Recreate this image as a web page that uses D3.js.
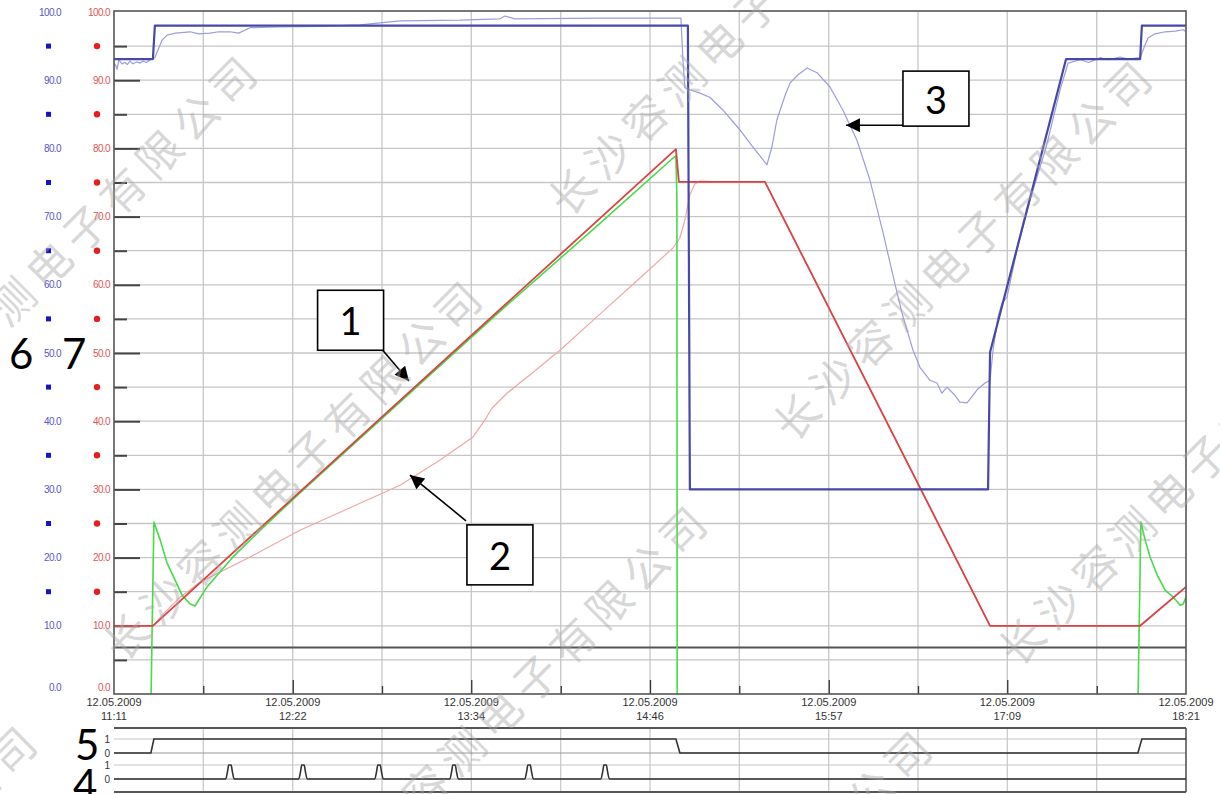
<!DOCTYPE html>
<html><head><meta charset="utf-8">
<script src="https://cdn.jsdelivr.net/npm/d3@7"></script>
<style>body{margin:0;background:#fff;} svg{display:block;}</style>
</head><body>
<svg id="c" width="1220" height="794"></svg>
<script>
// ---------------- DATA ----------------
const dateLabel = "12.05.2009";
const timeLabels = ["11:11","12:22","13:34","14:46","15:57","17:09","18:21"];
const timeTickMinutes = [0, 71.7, 143.3, 215, 286.7, 358.3, 430];
const minorTickMinutes = [35.8, 107.5, 179.2, 250.8, 322.5, 394.2];
const yMajorTicks = [0,10,20,30,40,50,60,70,80,90,100];
const yMinorTicks = [5,15,25,35,45,55,65,75,85,95];
const markerValues = [15,25,35,45,55,65,75,85,95];
const refLineValue = 6.8;

// [minute since 11:11, value]
const blueSetpoint = [[0,93.1],[15.6,93.1],[16.4,98.0],[230.2,98.0],[231.0,30.0],[350.6,30.0],[351.4,50.1],[381.9,93.1],[411.6,93.1],[412.3,98.0],[430,98.0]];
const blueActual = [[0,92.5],[0.8,92.1],[1.2,91.6],[2,93.0],[3.2,92.4],[4.4,92.6],[5.4,92.3],[6.4,92.8],[7.6,92.4],[9.2,92.7],[10.4,92.5],[11.6,92.8],[13,92.6],[14.4,93.0],[16.4,93.3],[17.6,94.4],[19.3,95.9],[21.3,96.6],[24.6,96.9],[30.5,97.1],[34,96.8],[38.5,96.9],[42,97.1],[46.5,97.1],[50,96.9],[54.6,97.7],[66.6,97.8],[82.6,97.9],[98.7,98.1],[114.7,98.7],[138.8,98.8],[154.8,99.0],[156.8,99.4],[160.8,99.0],[194.9,99.1],[227.4,99.1],[228.2,93.0],[229,88.9],[231,88.6],[235,88.1],[239,87.5],[244.3,85.6],[251.1,82.7],[256.3,80.2],[261.9,77.6],[263.9,80.2],[265.9,84.2],[269.2,87.8],[271.2,89.6],[274.4,90.8],[278,91.8],[282,91.1],[287.2,89.0],[292.4,85.6],[298,81.2],[303.2,75.4],[308.5,67.6],[314.1,58.8],[316.5,55.3],[320.5,50.4],[323.3,47.9],[327.3,46.0],[330.1,45.6],[332.1,44.1],[334.1,45.0],[337.3,43.8],[339.3,42.8],[342.2,42.7],[346.2,44.6],[349.4,45.6],[351.4,46.0],[352.6,50.4],[354.6,55.3],[356.2,57.3],[358.2,58.2],[362.2,65.1],[367.4,72.4],[373.9,80.2],[379.5,88.6],[382.7,92.5],[387.5,93.0],[391,92.6],[395.5,93.3],[399,93.0],[403.5,93.4],[407,93.1],[411.6,93.3],[413.6,95.2],[414.8,96.2],[417.6,96.8],[421.7,97.1],[425.7,97.2],[428.9,97.4],[430,97.1]];
const redSetpoint = [[0,10],[15.6,10],[225.4,79.9],[226.6,75.1],[261.1,75.1],[351.4,10],[411.6,10],[430,15.7]];
const redActual = [[0,10],[15.6,10],[20.5,12.0],[26.5,14.2],[34.5,16.4],[54.6,20.1],[74.6,24.0],[94.7,27.3],[114.7,30.6],[130.8,34.3],[144,37.7],[148.8,40.2],[151.6,41.9],[157.6,44.1],[166.9,46.8],[178.9,50.4],[194.9,55.7],[211,61.0],[224.2,65.4],[227,66.9],[229,69.5],[231,73.2],[233,74.8],[235,75.2],[243.1,75.1],[261.1,75.1],[351.4,10],[411.6,10],[430,15.7]];
const greenSeg1 = [[14.8,-2],[15.4,12],[16.0,25.2],[18.5,22.6],[21.3,19.2],[24.5,16.7],[27.3,14.5],[30.5,13.2],[32.5,12.9],[37.3,15.7],[42.5,17.9],[47.7,20.1],[58.6,24.0],[74.6,29.5],[114.7,42.8],[154.8,56.1],[194.9,69.0],[224.6,78.7],[225.4,78.9],[225.8,72.4],[225.9,0],[226.0,-2]];
const greenSeg2 = [[410.7,-2],[411.3,12],[411.9,25.2],[413.6,22.6],[415.6,20.1],[418.5,17.4],[421.7,15.2],[424.9,14.2],[427.7,13.0],[428.9,13.2],[430,14.2]];
const digital5 = [[0,0],[14.8,0],[16.0,1],[225.4,1],[227.0,0],[410.7,0],[412.3,1],[430,1]];
const digital4Pulses = [46.5, 75.8, 106.3, 136.4, 166.5, 197.0];
const digitalLevels = [0,1];

// annotations anchored in data units
const annotations = [
  {label:"1", box:[94.9,54.8], tail:[107.1,50.7], tip:[118.3,45.9]},
  {label:"2", box:[154.8,20.4], tail:[141.2,25.4], tip:[118.7,32.1]},
  {label:"3", box:[329.7,87.3], tail:[316.5,83.4], tip:[293.6,83.4]}
];
const watermarkText = "长沙容测电子有限公司";

// ---------------- LAYOUT ----------------
const svg = d3.select("#c");
const L = 114, R = 1186, T = 11, B = 694;
const x = d3.scaleLinear().domain([0,430]).range([L,R]);
const y = d3.scaleLinear().domain([0,100]).range([B,12]);
const gridCol = "#c6c6c6", frameCol = "#555";

svg.append("defs").append("clipPath").attr("id","plotclip")
  .append("rect").attr("x",L).attr("y",T).attr("width",R-L).attr("height",B-T);

// grid
const grid = svg.append("g");
grid.selectAll(".hg").data(yMinorTicks.concat(yMajorTicks.filter(v=>v>0&&v<100))).join("line")
  .attr("x1",L).attr("x2",R).attr("y1",d=>y(d)).attr("y2",d=>y(d))
  .attr("stroke",gridCol).attr("stroke-width",1.3);
grid.selectAll(".vg").data(timeTickMinutes.slice(1,-1).concat(minorTickMinutes)).join("line")
  .attr("x1",d=>x(d)).attr("x2",d=>x(d)).attr("y1",T).attr("y2",B)
  .attr("stroke",gridCol).attr("stroke-width",1.3);

// left inner ticks
const yAxMaj = d3.axisRight(y).tickValues(yMajorTicks.filter(v=>v>0&&v<100)).tickSize(26).tickFormat("");
const yAxMin = d3.axisRight(y).tickValues(yMinorTicks).tickSize(13).tickFormat("");
[yAxMaj,yAxMin].forEach(ax=>{
  const g = svg.append("g").attr("transform",`translate(${L},0)`).call(ax);
  g.select(".domain").remove();
  g.selectAll("line").attr("stroke","#444").attr("stroke-width",2);
});
// bottom inner ticks
const xAxMaj = d3.axisTop(x).tickValues(timeTickMinutes.slice(1,-1)).tickSize(14).tickFormat("");
const xAxMin = d3.axisTop(x).tickValues(minorTickMinutes).tickSize(8).tickFormat("");
[xAxMaj,xAxMin].forEach(ax=>{
  const g = svg.append("g").attr("transform",`translate(0,${B})`).call(ax);
  g.select(".domain").remove();
  g.selectAll("line").attr("stroke","#333").attr("stroke-width",1.3);
});

// reference line
svg.append("line").attr("x1",L).attr("x2",R).attr("y1",y(refLineValue)).attr("y2",y(refLineValue))
  .attr("stroke","#555").attr("stroke-width",2);

// series
const line = d3.line().x(d=>x(d[0])).y(d=>y(d[1]));
const plot = svg.append("g").attr("clip-path","url(#plotclip)");
const series = [
  {d:redActual, c:"#f2a6a6", w:1.2},
  {d:blueActual, c:"#9c9ce2", w:1.2},
  {d:greenSeg1, c:"#46dc46", w:1.6},
  {d:greenSeg2, c:"#46dc46", w:1.6},
  {d:redSetpoint, c:"#d94444", w:1.8},
  {d:blueSetpoint, c:"#4848a8", w:2.2}
];
series.forEach(s=>plot.append("path").attr("d",line(s.d)).attr("fill","none")
  .attr("stroke",s.c).attr("stroke-width",s.w).attr("stroke-linejoin","round"));

// frame
svg.append("rect").attr("x",L).attr("y",T).attr("width",R-L).attr("height",B-T)
  .attr("fill","none").attr("stroke",frameCol).attr("stroke-width",1.6);

// y labels & markers
const lab = svg.append("g").attr("font-family","Liberation Sans, Arial, sans-serif").attr("font-size",10).attr("letter-spacing","-0.6");
yMajorTicks.forEach(v=>{
  const yy = y(v) - (v===0?7:0);
  lab.append("text").attr("x",61).attr("y",yy).attr("text-anchor","end").attr("dominant-baseline","central")
    .attr("fill","#5656cc").text(v.toFixed(1));
  lab.append("text").attr("x",110).attr("y",yy).attr("text-anchor","end").attr("dominant-baseline","central")
    .attr("fill","#e05656").text(v.toFixed(1));
});
svg.selectAll(".sq").data(markerValues).join("rect")
  .attr("x",46).attr("y",d=>y(d)-2.5).attr("width",5).attr("height",5).attr("fill","#1414c8");
svg.selectAll(".dot").data(markerValues).join("circle")
  .attr("cx",97).attr("cy",d=>y(d)).attr("r",3.2).attr("fill","#e61e1e");

// x labels
const xl = svg.append("g").attr("font-family","Liberation Sans, Arial, sans-serif").attr("font-size",11).attr("fill","#333").attr("text-anchor","middle");
timeTickMinutes.forEach((m,i)=>{
  xl.append("text").attr("x",x(m)).attr("y",706).text(dateLabel);
  xl.append("text").attr("x",x(m)).attr("y",720).text(timeLabels[i]);
});

// digital panel
const PT = 728, PB = 792;
const lane5 = d3.scaleLinear().domain([0,1]).range([753,739]);
const lane4 = d3.scaleLinear().domain([0,1]).range([779,765]);
const dp = svg.append("g");
dp.selectAll(".dv").data(timeTickMinutes.slice(1,-1).concat(minorTickMinutes)).join("line")
  .attr("x1",d=>x(d)).attr("x2",d=>x(d)).attr("y1",PT).attr("y2",PB).attr("stroke",gridCol).attr("stroke-width",1.2);
[lane5,lane4].forEach(sc=>{
  digitalLevels.forEach(v=>{
    dp.append("line").attr("x1",L).attr("x2",R).attr("y1",sc(v)).attr("y2",sc(v))
      .attr("stroke", v===1 ? gridCol : "#9a9a9a").attr("stroke-width",1.2);
  });
});
dp.append("line").attr("x1",L).attr("x2",R).attr("y1",PT).attr("y2",PT).attr("stroke",frameCol).attr("stroke-width",1.8);
dp.append("line").attr("x1",L).attr("x2",R).attr("y1",PB).attr("y2",PB).attr("stroke",frameCol).attr("stroke-width",1.8);
dp.append("line").attr("x1",R).attr("x2",R).attr("y1",PT).attr("y2",PB).attr("stroke",frameCol).attr("stroke-width",1.6);
const d5line = d3.line().x(d=>x(d[0])).y(d=>lane5(d[1]));
dp.append("path").attr("d",d5line(digital5)).attr("fill","none").attr("stroke","#333").attr("stroke-width",1.6);
const d4pts = [[0,0]];
digital4Pulses.forEach(p=>{ d4pts.push([p-1.7,0],[p-0.9,0.6],[p-0.5,1],[p+0.5,1],[p+0.9,0.6],[p+1.7,0]); });
d4pts.push([430,0]);
const d4line = d3.line().x(d=>x(d[0])).y(d=>lane4(d[1])).curve(d3.curveMonotoneX);
dp.append("path").attr("d",d4line(d4pts)).attr("fill","none").attr("stroke","#333").attr("stroke-width",1.6);
const dl = svg.append("g").attr("font-family","Liberation Sans, Arial, sans-serif").attr("font-size",10).attr("fill","#333").attr("text-anchor","end");
[lane5,lane4].forEach(sc=>digitalLevels.forEach(v=>{
  dl.append("text").attr("x",110).attr("y",sc(v)).attr("dominant-baseline","central").text(v);
}));

// big labels
const big = svg.append("g").attr("font-family","Lato, 'Open Sans', sans-serif").attr("font-size",42).attr("fill","#000");
big.append("text").attr("x",9).attr("y",369).text("6");
big.append("text").attr("x",62).attr("y",369).text("7");
big.append("text").attr("x",75).attr("y",760).text("5");
big.append("text").attr("x",73).attr("y",800).text("4");

// annotations
const defs = svg.select("defs");
defs.append("marker").attr("id","ah").attr("viewBox","0 0 10 10").attr("refX",10).attr("refY",5)
  .attr("markerWidth",16).attr("markerHeight",14).attr("markerUnits","userSpaceOnUse").attr("orient","auto")
  .append("path").attr("d","M0,0L10,5L0,10z").attr("fill","#000");
const an = svg.append("g");
annotations.forEach(a=>{
  an.append("line").attr("x1",x(a.tail[0])).attr("y1",y(a.tail[1])).attr("x2",x(a.tip[0])).attr("y2",y(a.tip[1]))
    .attr("stroke","#000").attr("stroke-width",1.6).attr("marker-end","url(#ah)");
  const cx = x(a.box[0]), cy = y(a.box[1]);
  const h = a.label==="3" ? 55 : 60;
  an.append("rect").attr("x",cx-33).attr("y",cy-h/2).attr("width",66).attr("height",h)
    .attr("fill","#fff").attr("stroke","#000").attr("stroke-width",1.6);
  an.append("text").attr("x",cx).attr("y",cy).attr("text-anchor","middle").attr("dominant-baseline","central")
    .attr("font-family","Lato, 'Open Sans', sans-serif").attr("font-size",38).attr("fill","#000").text(a.label);
});

// watermark
const wm = svg.append("g").attr("font-family","'Noto Sans CJK SC', sans-serif").attr("font-size",44)
  .attr("letter-spacing","8").attr("fill","#a8a8a8").attr("fill-opacity",0.45);
for (let k=-1;k<=4;k++){
  const c = 310 + 450*k;
  let x0 = -100 + 225*k; x0 = ((x0 % 445) + 445) % 445 - 445;
  for (let xs = x0; xs < 1400; xs += 445){
    const ys = c - xs;
    if (ys < -450 || ys > 1300) continue;
    wm.append("text").attr("transform",`translate(${xs},${ys}) rotate(-45)`)
      .attr("x",-22).attr("dominant-baseline","central").text(watermarkText);
  }
}
</script>
</body></html>
